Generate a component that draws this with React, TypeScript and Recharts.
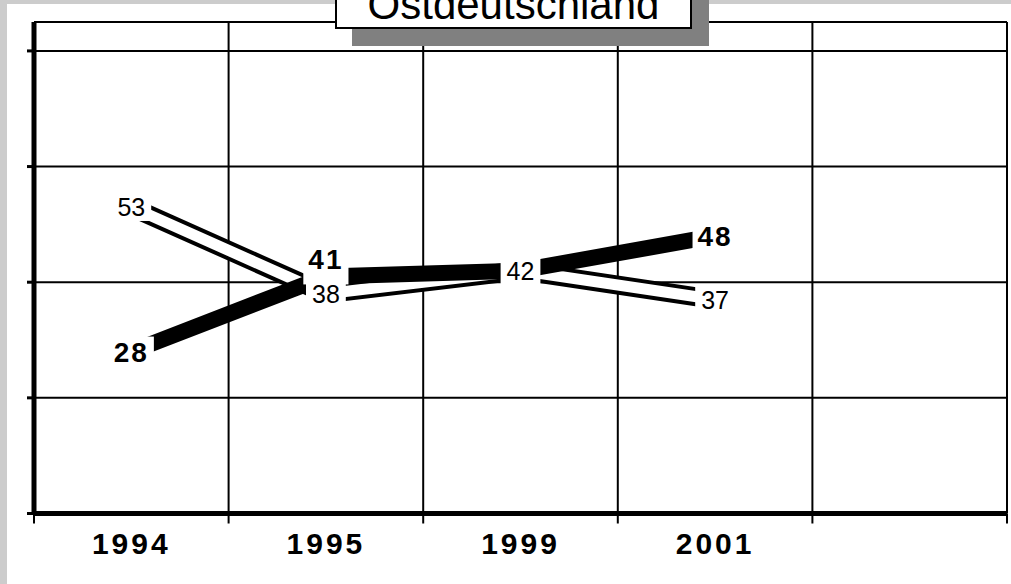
import { LineChart, Line, XAxis, YAxis, CartesianGrid, LabelList } from 'recharts';

const years = ['1994', '1995', '1999', '2001', ''];
const boldValues = [28, 41, 42, 48, null];
const plainValues = [53, 38, 42, 37, null];
const yTicks = [0, 20, 40, 60, 80];

const data = years.map((year, i) => ({
  year,
  bold: boldValues[i],
  plain: plainValues[i],
}));

const FONT = '"Liberation Sans", Arial, Helvetica, sans-serif';

// value label with a white box behind it, so the ribbons stop short of the numbers
function makeLabel(bold: boolean) {
  return function ValueLabel(props: any) {
    const { x, y, value, index } = props;
    if (value == null || x == null || y == null) return null;
    // both series meet at 1999, only one label is shown there
    if (bold && boldValues[index] === plainValues[index]) return null;
    const fontSize = bold ? 28 : 25;
    const spacing = bold ? 2 : 0;
    const text = String(value);
    const w = text.length * fontSize * 0.556 + (text.length - 1) * spacing;
    const cap = fontSize * 0.716;
    const lift = bold && index === 1 ? -17 : 0;
    const cy = y + lift;
    const top = Math.min(cy - cap / 2 - 5, y - 8);
    const bottom = Math.max(cy + cap / 2 + 5, y + 8);
    return (
      <g>
        <rect x={x - w / 2 - 6} y={top} width={w + 12} height={bottom - top} fill="#fff" />
        <text
          x={x}
          y={cy + cap / 2}
          textAnchor="middle"
          fontFamily={FONT}
          fontSize={fontSize}
          fontWeight={bold ? 700 : 400}
          letterSpacing={spacing}
          fill="#000"
        >
          {text}
        </text>
      </g>
    );
  };
}

// year label plus the tick marks at the category boundaries
function YearTick(props: any) {
  const { x, y, payload, index, width, visibleTicksCount } = props;
  const half = payload?.offset ?? width / visibleTicksCount / 2;
  const last = index === visibleTicksCount - 1;
  return (
    <g>
      <line x1={x - half} x2={x - half} y1={y} y2={y + 10} stroke="#000" strokeWidth={2} />
      {last && <line x1={x + half} x2={x + half} y1={y} y2={y + 10} stroke="#000" strokeWidth={2} />}
      <text
        x={x}
        y={y}
        dy={40}
        textAnchor="middle"
        fontFamily={FONT}
        fontSize={30}
        fontWeight={700}
        letterSpacing={3}
        fill="#000"
      >
        {payload.value}
      </text>
    </g>
  );
}

const NoTick = () => <g />;

export default function App() {
  return (
    <div style={{ position: 'absolute', left: 0, top: 0, width: 1011, height: 584, background: '#cccccc', overflow: 'hidden' }}>
      <div style={{ position: 'absolute', left: 7, top: 4, right: 0, bottom: 0, background: '#fff' }} />
      <div style={{ position: 'absolute', left: 0, top: 0 }}>
        <LineChart width={1011} height={584} data={data} margin={{ top: 22, right: 4, bottom: 0, left: 14 }}>
          <CartesianGrid
            stroke="#000"
            strokeWidth={2}
            verticalCoordinatesGenerator={({ offset }: any) =>
              years.map((_, i) => offset.left + (i * offset.width) / years.length).concat(offset.left + offset.width)
            }
          />
          <XAxis
            dataKey="year"
            scale="band"
            axisLine={{ stroke: '#000', strokeWidth: 5 }}
            tickLine={false}
            tickSize={0}
            tickMargin={0}
            tick={<YearTick />}
            interval={0}
            height={70.5}
          />
          <YAxis
            domain={[0, 85]}
            ticks={yTicks}
            tick={NoTick}
            tickSize={7}
            tickLine={{ stroke: '#000', strokeWidth: 3 }}
            axisLine={{ stroke: '#000', strokeWidth: 5 }}
            width={20}
          />
          <Line type="linear" dataKey="plain" stroke="#000" strokeWidth={19} dot={false} activeDot={false} isAnimationActive={false} />
          <Line type="linear" dataKey="plain" stroke="#fff" strokeWidth={11} dot={false} activeDot={false} isAnimationActive={false} />
          <Line type="linear" dataKey="bold" stroke="#000" strokeWidth={16} dot={false} activeDot={false} isAnimationActive={false} />
          <Line type="linear" dataKey="bold" stroke="none" dot={false} activeDot={false} isAnimationActive={false}>
            <LabelList dataKey="bold" content={makeLabel(true)} />
          </Line>
          <Line type="linear" dataKey="plain" stroke="none" dot={false} activeDot={false} isAnimationActive={false}>
            <LabelList dataKey="plain" content={makeLabel(false)} />
          </Line>
        </LineChart>
      </div>
      <div
        style={{
          position: 'absolute',
          left: 335,
          top: -22,
          width: 353,
          height: 47,
          background: '#fff',
          border: '2px solid #000',
          boxShadow: '17px 17px 0 #808080',
          overflow: 'hidden',
        }}
      >
        <span
          style={{
            position: 'absolute',
            left: 0,
            right: 0,
            top: 4,
            textAlign: 'center',
            fontFamily: FONT,
            fontSize: 42,
            lineHeight: '42px',
            color: '#000',
            whiteSpace: 'nowrap',
          }}
        >
          Ostdeutschland
        </span>
      </div>
    </div>
  );
}
